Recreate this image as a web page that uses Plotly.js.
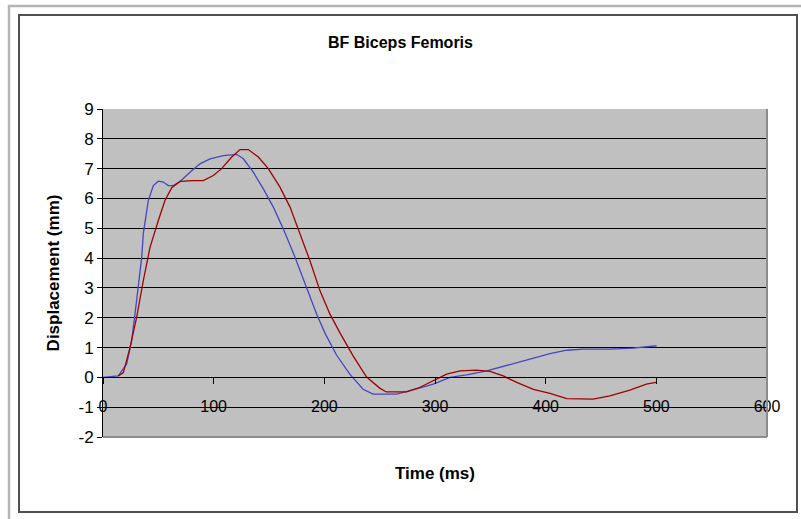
<!DOCTYPE html>
<html>
<head>
<meta charset="utf-8">
<script src="https://cdn.plot.ly/plotly-3.0.1.min.js"></script>
<style>html,body{margin:0;padding:0;background:#fff;}#chart{width:801px;height:519px;}</style>
</head>
<body>
<div id="chart"></div>
<script>
// Blue series (time ms, displacement mm)
const blueTime = [0, 13.8, 21.4, 25.9, 28.9, 31.9, 35, 36.4, 40.9, 45.5, 50, 54.5, 59, 63.5, 69.6, 78.6, 87.6, 96.7, 108.7, 120.8, 126.8, 135.8, 144.9, 153.9, 162.9, 173.5, 184.1, 193.1, 201, 211, 223, 235, 244, 265, 277, 298.5, 313.5, 328.6, 346.7, 364.8, 385.8, 403.9, 419, 434, 458, 479, 494.3, 500.3];
const blueDisp = [0, 0.05, 0.45, 1.23, 2.12, 3.02, 4.03, 4.81, 5.93, 6.43, 6.58, 6.55, 6.43, 6.43, 6.57, 6.88, 7.16, 7.33, 7.44, 7.48, 7.33, 6.88, 6.32, 5.71, 4.98, 4.03, 3.02, 2.12, 1.45, 0.75, 0.11, -0.40, -0.56, -0.56, -0.45, -0.23, 0, 0.08, 0.22, 0.39, 0.61, 0.80, 0.91, 0.95, 0.95, 0.98, 1.03, 1.06];
// Red series
const redTime = [13.8, 18.4, 24.4, 30.4, 36.4, 42.5, 50, 56, 62.1, 69.6, 81.6, 90.6, 99.7, 107.2, 116.3, 123.8, 131.3, 140.4, 149.4, 159.9, 169, 178, 187, 196, 205.1, 214, 226, 238, 250, 256, 274, 286, 301.5, 310.5, 322.6, 337.6, 349.7, 361.7, 373.8, 388.9, 403.9, 419, 443, 458, 476, 491, 499.7];
const redDisp = [0.05, 0.16, 1.0, 2.01, 3.24, 4.36, 5.26, 5.93, 6.36, 6.57, 6.60, 6.60, 6.77, 7.0, 7.39, 7.64, 7.64, 7.39, 7.0, 6.38, 5.71, 4.81, 3.91, 2.91, 2.12, 1.5, 0.72, 0.02, -0.36, -0.49, -0.49, -0.34, -0.06, 0.11, 0.22, 0.24, 0.20, 0.05, -0.17, -0.40, -0.54, -0.71, -0.73, -0.62, -0.43, -0.23, -0.17];

const xTicks = [0, 100, 200, 300, 400, 500, 600];
const yTicks = [-2, -1, 0, 1, 2, 3, 4, 5, 6, 7, 8, 9];

const W = 801, H = 519, ML = 103, MR = 34, MT = 109, MB = 82;
const PW = W - ML - MR, PH = H - MT - MB;
const px = v => (v - ML) / PW;
const py = v => (H - MB - v) / PH;

const font = "Arial, 'Liberation Sans', sans-serif";

const traces = [
  {x: blueTime, y: blueDisp, type: 'scatter', mode: 'lines', line: {color: '#4646C0', width: 1.3}, name: 'Blue'},
  {x: redTime, y: redDisp, type: 'scatter', mode: 'lines', line: {color: '#A00000', width: 1.3}, name: 'Red'}
];

const layout = {
  width: W, height: H,
  margin: {l: ML, r: MR, t: MT, b: MB},
  paper_bgcolor: '#ffffff',
  plot_bgcolor: '#C0C0C0',
  showlegend: false,
  font: {family: font, color: '#000', size: 16},
  title: {text: '<b>BF Biceps Femoris</b>', x: 0.5, xref: 'container', y: 1 - 42 / H, yref: 'container', yanchor: 'middle', font: {size: 16, family: font}},
  xaxis: {
    range: [0, 600], tickvals: xTicks, ticktext: xTicks.map(String),
    showgrid: false, zeroline: false, showline: true, linecolor: '#000', linewidth: 1,
    ticks: 'outside', ticklen: 6, tickcolor: '#000', tickwidth: 1,
    anchor: 'free', position: 2 / 11, ticklabelstandoff: 8,
    tickfont: {size: 16, family: font},
    title: {text: '<b>Time (ms)</b>', font: {size: 17, family: font}, standoff: 53}
  },
  yaxis: {
    range: [-2, 9], tickvals: yTicks, ticktext: yTicks.map(String),
    showgrid: true, gridcolor: '#000', gridwidth: 1, zeroline: false,
    showline: true, linecolor: '#000', linewidth: 1,
    ticks: 'outside', ticklen: 5, tickcolor: '#000',
    tickfont: {size: 17, family: font},
    title: {text: '<b>Displacement (mm)</b>', font: {size: 17, family: font}, standoff: 14}
  },
  shapes: [
    {type: 'line', xref: 'x domain', yref: 'y domain', x0: 1, x1: 1, y0: 0, y1: 1, line: {color: '#8C8C8C', width: 2}},
    {type: 'line', xref: 'x domain', yref: 'y domain', x0: 0, x1: 1, y0: 0, y1: 0, line: {color: '#8C8C8C', width: 2}},
    {type: 'rect', xref: 'paper', yref: 'paper', x0: px(19), x1: px(797), y0: py(512), y1: py(15), line: {color: '#505050', width: 2}},
    {type: 'path', xref: 'paper', yref: 'paper', path: `M ${px(9)} ${py(519)} L ${px(9)} ${py(6)} L ${px(801)} ${py(6)}`, line: {color: '#B4B4B4', width: 2.5}}
  ]
};

Plotly.newPlot('chart', traces, layout, {displayModeBar: false, staticPlot: true});
</script>
</body>
</html>
